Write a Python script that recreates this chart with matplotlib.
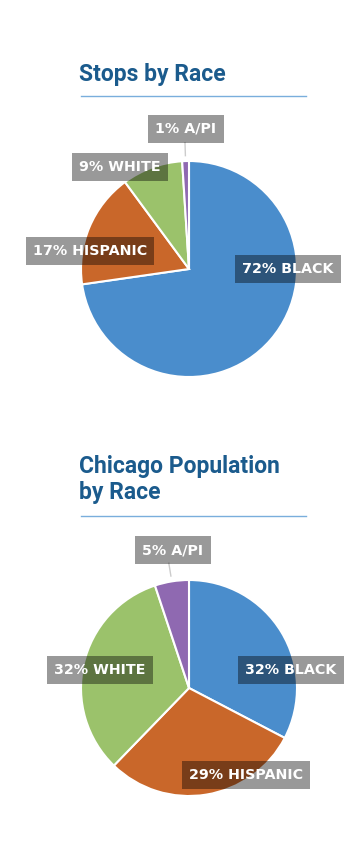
import numpy as np
import matplotlib.pyplot as plt
from matplotlib.lines import Line2D

# data
stops_labels = ["BLACK", "HISPANIC", "WHITE", "A/PI"]
stops_values = [72, 17, 9, 1]
pop_labels = ["BLACK", "HISPANIC", "WHITE", "A/PI"]
pop_values = [32, 29, 32, 5]
colors = ["#4a8dcc", "#c9672a", "#9bc26b", "#8f69b1"]

W, H = 363, 850
fig = plt.figure(figsize=(W / 100, H / 100), dpi=100)
fig.patch.set_facecolor("white")

title_color = "#1b5b8d"
rule_color = "#7aaedc"
label_font = "DejaVu Sans"
title_font = "Roboto"


def px(x, y):
    # pixel (from top-left) -> figure fraction
    return x / W, 1 - y / H


def title_block(lines, y_first, y_rule):
    for i, t in enumerate(lines):
        fx, fy = px(79, y_first + i * 27)
        fig.text(fx, fy, t, fontsize=16.5, fontweight="bold", color=title_color,
                 family=title_font, va="center", ha="left")
    x0, y0 = px(81, y_rule)
    x1, _ = px(306, y_rule)
    fig.add_artist(Line2D([x0, x1], [y0, y0], color=rule_color, lw=1.0,
                          transform=fig.transFigure))


def pie_block(values, cx, cy, R):
    x0, y0 = px(cx - R, cy + R)
    ax = fig.add_axes([x0, y0, 2 * R / W, 2 * R / H])
    wedges, _ = ax.pie(values, colors=colors, startangle=90, counterclock=False,
                       radius=1, wedgeprops=dict(edgecolor="white", linewidth=1.5))
    ax.set_xlim(-1, 1)
    ax.set_ylim(-1, 1)
    ax.set_aspect("equal")
    ax.axis("off")
    # leader line for the last (small) wedge
    w = wedges[-1]
    mid = np.deg2rad((w.theta1 + w.theta2) / 2)
    ax.plot([1.05 * np.cos(mid), 1.17 * np.cos(mid)],
            [1.05 * np.sin(mid), 1.17 * np.sin(mid)],
            color="#cccccc", lw=1.0, clip_on=False)
    return ax


def add_label(text, x, y):
    fx, fy = px(x, y)
    fig.text(fx, fy, text, fontsize=10.3, fontweight="bold", color="white",
             family=label_font, ha="center", va="center",
             bbox=dict(boxstyle="square,pad=0.5", facecolor="black",
                       edgecolor="none", alpha=0.4))


# first chart
title_block(["Stops by Race"], 75, 96)
pie_block(stops_values, 189, 269, 108)
stops_pos = [(288, 269), (90, 251), (120, 167), (186, 129)]
for lab, v, (x, y) in zip(stops_labels, stops_values, stops_pos):
    add_label(f"{v}% {lab}", x, y)

# second chart
title_block(["Chicago Population", "by Race"], 466, 516)
pie_block(pop_values, 189, 688, 108)
pop_pos = [(291, 670), (246, 775), (100, 670), (173, 550)]
for lab, v, (x, y) in zip(pop_labels, pop_values, pop_pos):
    add_label(f"{v}% {lab}", x, y)

fig.savefig("out.png", dpi=100, facecolor="white")
